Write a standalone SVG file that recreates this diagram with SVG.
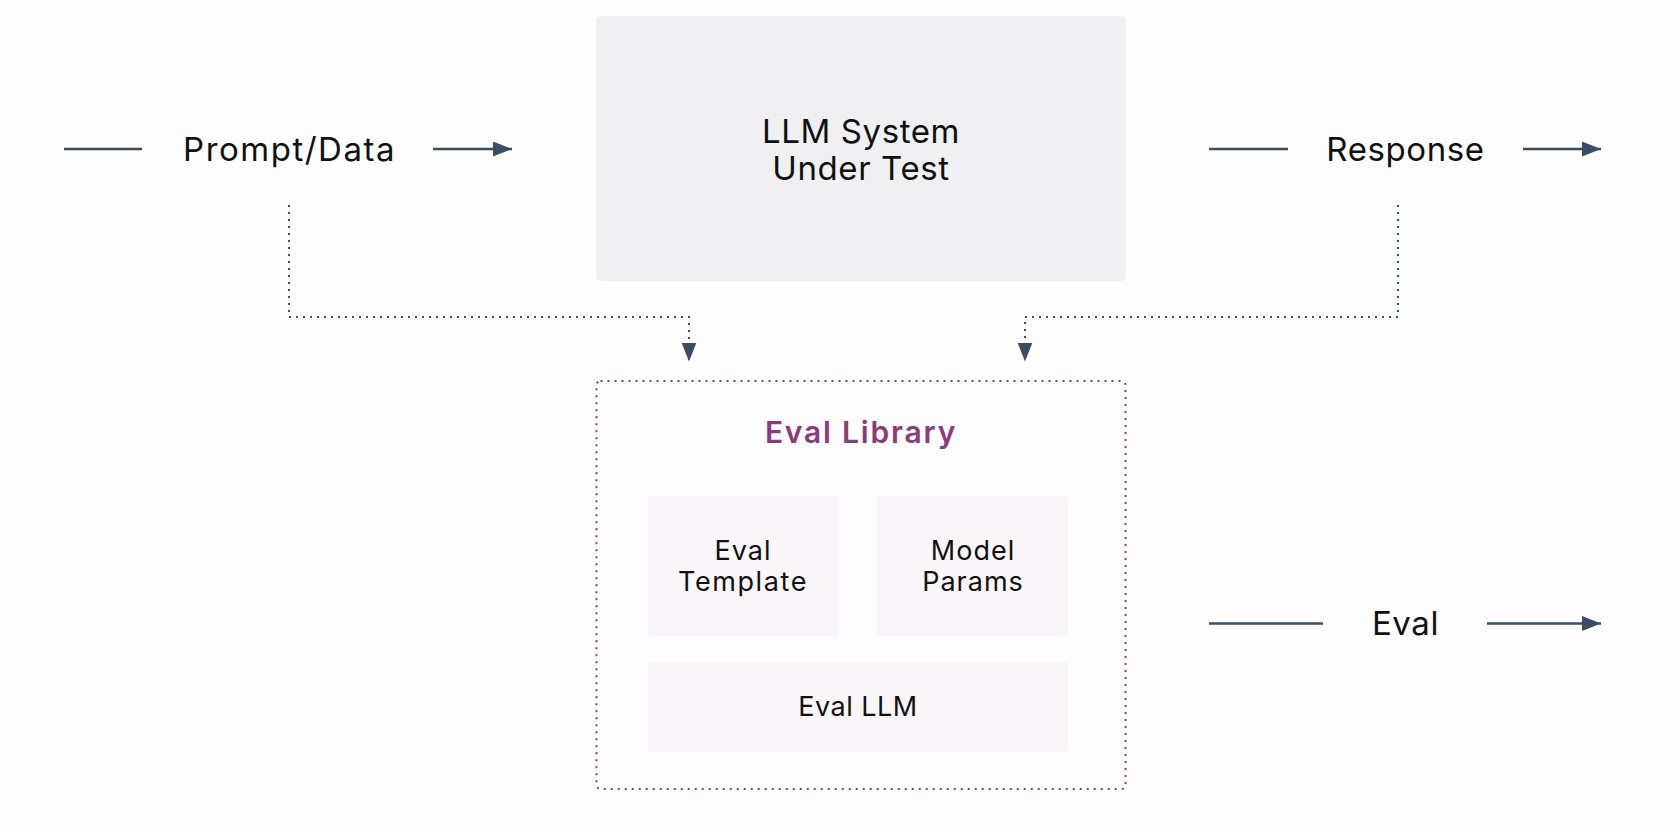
<svg xmlns="http://www.w3.org/2000/svg" width="1678" height="828" viewBox="0 0 1678 828">
<style>
.lbl{font-family:Inter,"Noto Sans","DejaVu Sans",sans-serif;fill:#111;text-anchor:middle}
.big{font-size:33px;letter-spacing:0.6px}
.sm{font-size:27px;letter-spacing:1px}
.ttl{font-size:30px;font-weight:600;fill:#8b3a7e;letter-spacing:1.8px}
.ln{stroke:#3b4d65;stroke-width:2.5;fill:none}
.dot{stroke:#3b4d65;stroke-width:2;fill:none;stroke-dasharray:2 5}
.inner{fill:#f9f5f8}
</style>
<defs>
<marker id="ah" markerUnits="userSpaceOnUse" markerWidth="19" markerHeight="15" refX="19" refY="7.5" orient="auto" viewBox="0 0 19 15">
<path d="M0,0 L19,7.5 L0,15 z" fill="#3b4d65"/>
</marker>
</defs>
<rect width="1678" height="828" fill="#fdfdfd"/>
<g id="llm-system">
<rect x="596" y="16" width="530" height="265" rx="5" fill="#f0f0f2"/>
<text class="lbl big" x="861" y="143">LLM System</text>
<text class="lbl big" x="861" y="180">Under Test</text>
</g>
<g id="eval-library">
<rect x="596.5" y="381" width="529" height="408" rx="4" fill="none" stroke="#8b3a7e" stroke-width="2" stroke-dasharray="2 5"/>
<text class="lbl ttl" x="861" y="443">Eval Library</text>
</g>
<g id="eval-template">
<rect class="inner" x="648" y="496" width="191" height="141" rx="3"/>
<text class="lbl sm" x="743" y="560">Eval</text>
<text class="lbl sm" x="743" y="591" style="letter-spacing:1.6px">Template</text>
</g>
<g id="model-params">
<rect class="inner" x="877" y="496" width="191" height="141" rx="3"/>
<text class="lbl sm" x="973" y="560">Model</text>
<text class="lbl sm" x="973" y="591">Params</text>
</g>
<g id="eval-llm">
<rect class="inner" x="648" y="662" width="420" height="90" rx="3"/>
<text class="lbl sm" x="858" y="716" style="letter-spacing:0.5px">Eval LLM</text>
</g>
<g id="labels">
<text class="lbl big" x="289.5" y="161" style="letter-spacing:1.5px">Prompt/Data</text>
<text class="lbl big" x="1405.5" y="161">Response</text>
<text class="lbl big" x="1405.5" y="635">Eval</text>
</g>
<g id="connectors">
<line class="ln" x1="64" y1="149" x2="142" y2="149"/>
<line class="ln" x1="433" y1="149" x2="512" y2="149" marker-end="url(#ah)"/>
<line class="ln" x1="1209" y1="149" x2="1288" y2="149"/>
<line class="ln" x1="1523" y1="149" x2="1601" y2="149" marker-end="url(#ah)"/>
<line class="ln" x1="1209" y1="623.5" x2="1323" y2="623.5"/>
<line class="ln" x1="1487" y1="623.5" x2="1601" y2="623.5" marker-end="url(#ah)"/>
<path class="dot" d="M289,205 V317 H689 V361.5" marker-end="url(#ah)"/>
<path class="dot" d="M1398,205 V317 H1025 V361.5" marker-end="url(#ah)"/>
</g>
</svg>
